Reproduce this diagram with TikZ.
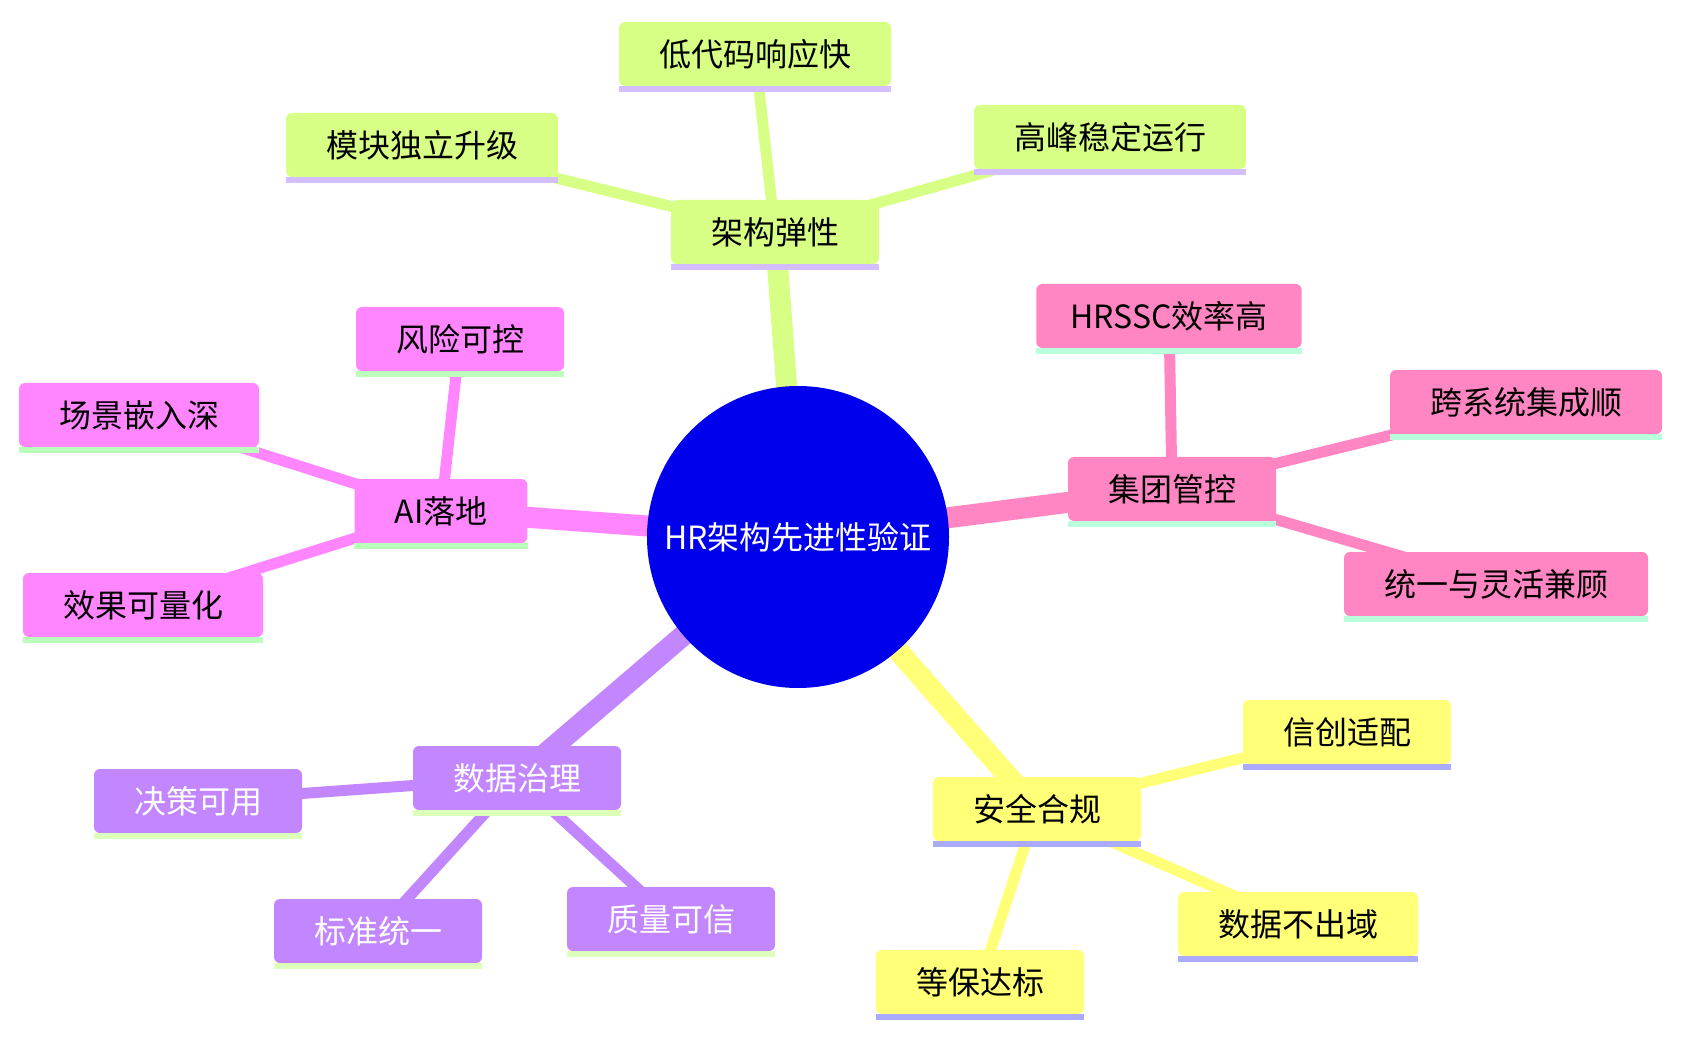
\documentclass[tikz,border=0pt]{standalone}
\usepackage{fontspec}
\usepackage{tikz}
\usetikzlibrary{backgrounds}
\newfontfamily\cjk{Noto Sans CJK SC}
\definecolor{corRaiz}{RGB}{0, 0, 236}
\definecolor{corVerde}{RGB}{215, 255, 134}
\definecolor{corLilas}{RGB}{213, 190, 255}
\definecolor{corRosa}{RGB}{255, 134, 194}
\definecolor{corMenta}{RGB}{186, 255, 220}
\definecolor{corMagenta}{RGB}{255, 134, 255}
\definecolor{corVerdeClaro}{RGB}{186, 255, 186}
\definecolor{corRoxo}{RGB}{194, 134, 255}
\definecolor{corLima}{RGB}{220, 255, 186}
\definecolor{corAmarelo}{RGB}{255, 255, 120}
\definecolor{corAzulClaro}{RGB}{170, 170, 255}

\begin{document}
\begin{tikzpicture}[
    x=0.5pt, y=-0.5pt,
    every node/.style={font=\cjk\fontsize{16}{19}\selectfont},
    box/.style 2 args={fill=#1, rounded corners=3pt, inner xsep=20pt, inner ysep=0pt,
                minimum height=32pt,
                append after command={([yshift=-1.3pt]\tikzlastnode.south west)
                    edge[draw=#2, line width=2.7pt] ([yshift=-1.3pt]\tikzlastnode.south east)}},
    tronco/.style={line width=10.5pt},
    ramo/.style={line width=5.5pt}
]
\useasboundingbox (0,0) rectangle (1681,1037);

% raiz
\node[circle, fill=corRaiz, text=white, minimum size=151pt, inner sep=0pt] (root) at (798,537) {HR架构先进性验证};

% architecture
\node[box={corVerde}{corLilas}] (arch) at (775,232) {架构弹性};
\node[box={corVerde}{corLilas}] (archA) at (755,54) {低代码响应快};
\node[box={corVerde}{corLilas}] (archB) at (422,145) {模块独立升级};
\node[box={corVerde}{corLilas}] (archC) at (1110,137) {高峰稳定运行};

% group
\node[box={corRosa}{corMenta}] (group) at (1172,489) {集团管控};
\node[box={corRosa}{corMenta}, inner xsep=17pt] (groupA) at (1169,316) {HRSSC效率高};
\node[box={corRosa}{corMenta}] (groupB) at (1526,402) {跨系统集成顺};
\node[box={corRosa}{corMenta}] (groupC) at (1496,584) {统一与灵活兼顾};

% AI
\node[box={corMagenta}{corVerdeClaro}] (ai) at (441,511) {AI落地};
\node[box={corMagenta}{corVerdeClaro}] (aiA) at (460,339) {风险可控};
\node[box={corMagenta}{corVerdeClaro}] (aiB) at (139,415) {场景嵌入深};
\node[box={corMagenta}{corVerdeClaro}] (aiC) at (143,605) {效果可量化};

% data
\node[box={corRoxo}{corLima}, text=white] (data) at (517,778) {数据治理};
\node[box={corRoxo}{corLima}, text=white] (dataA) at (198,801) {决策可用};
\node[box={corRoxo}{corLima}, text=white] (dataB) at (378,931) {标准统一};
\node[box={corRoxo}{corLima}, text=white] (dataC) at (671,919) {质量可信};

% security
\node[box={corAmarelo}{corAzulClaro}] (sec) at (1037,809) {安全合规};
\node[box={corAmarelo}{corAzulClaro}] (secA) at (1347,732) {信创适配};
\node[box={corAmarelo}{corAzulClaro}] (secB) at (1298,924) {数据不出域};
\node[box={corAmarelo}{corAzulClaro}] (secC) at (980,982) {等保达标};

\begin{scope}[on background layer]
\foreach \f in {archA, archB, archC} \draw[ramo, draw=corVerde] (arch.center) -- (\f.center);
\foreach \f in {groupA, groupB, groupC} \draw[ramo, draw=corRosa] (group.center) -- (\f.center);
\foreach \f in {aiA, aiB, aiC} \draw[ramo, draw=corMagenta] (ai.center) -- (\f.center);
\foreach \f in {dataA, dataB, dataC} \draw[ramo, draw=corRoxo] (data.center) -- (\f.center);
\foreach \f in {secA, secB, secC} \draw[ramo, draw=corAmarelo] (sec.center) -- (\f.center);
\draw[tronco, draw=corVerde] (root.center) -- (arch.center);
\draw[tronco, draw=corRosa] (root.center) -- (group.center);
\draw[tronco, draw=corMagenta] (root.center) -- (ai.center);
\draw[tronco, draw=corRoxo] (root.center) -- (data.center);
\draw[tronco, draw=corAmarelo] (root.center) -- (sec.center);
\end{scope}
\end{tikzpicture}
\end{document}
